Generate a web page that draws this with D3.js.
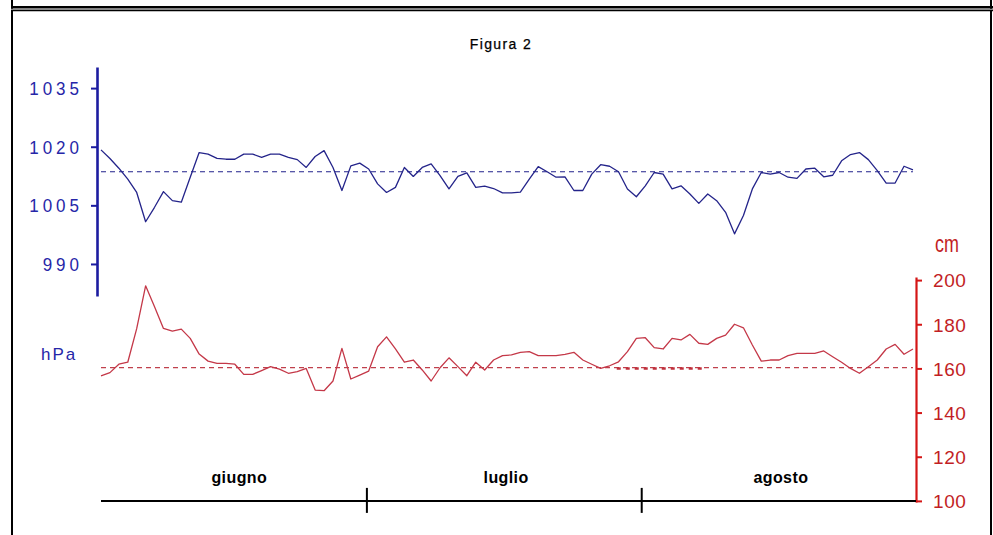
<!DOCTYPE html>
<html>
<head>
<meta charset="utf-8">
<script src="https://cdn.jsdelivr.net/npm/d3@7"></script>
<style>
  html, body { margin: 0; padding: 0; background: #fff; }
  svg { display: block; }
  text { font-family: "Liberation Sans", Arial, sans-serif; }
</style>
</head>
<body>
<svg id="chart" width="993" height="535"></svg>
<script>
// ---- data ----
const title = "Figura 2";
const months = ["giugno", "luglio", "agosto"];
const monthLabelDay = [15.5, 45.4, 76.2];
const monthBoundaryDay = [29.8, 60.6];

// daily sea-level pressure (hPa), 1 June - 31 August
const pressure = [
  1019.2, 1017.0, 1014.5, 1011.7, 1008.3, 1000.8, 1004.5, 1008.5, 1006.2, 1005.8,
  1012.2, 1018.5, 1018.1, 1017.0, 1016.8, 1016.8, 1018.1, 1018.1, 1017.3, 1018.1,
  1018.1, 1017.3, 1016.7, 1014.7, 1017.5, 1019.0, 1014.7, 1008.8, 1015.1, 1015.8,
  1014.3, 1010.5, 1008.3, 1009.6, 1014.7, 1012.4, 1014.7, 1015.6, 1012.6, 1009.2,
  1012.4, 1013.3, 1009.6, 1009.9, 1009.3, 1008.2, 1008.2, 1008.4, 1011.7, 1014.9,
  1013.6, 1012.2, 1012.3, 1008.8, 1008.8, 1013.0, 1015.4, 1015.0, 1013.6, 1009.2,
  1007.2, 1010.0, 1013.4, 1013.0, 1009.2, 1010.0, 1007.9, 1005.5, 1007.9, 1006.2,
  1003.2,  997.7, 1002.4, 1009.2, 1013.4, 1013.0, 1013.4, 1012.2, 1011.9, 1014.3,
  1014.5, 1012.3, 1012.7, 1016.4, 1018.0, 1018.5, 1016.7, 1013.9, 1010.7, 1010.7,
  1015.0, 1014.1
];

// daily sea level (cm)
const seaLevel = [
  156.6, 158.1, 161.9, 162.8, 178.0, 197.4, 187.9, 178.1, 176.9, 177.8,
  173.6, 166.5, 163.3, 162.3, 162.3, 161.9, 157.3, 157.3, 159.0, 160.8,
  159.7, 157.8, 158.5, 160.0, 150.2, 149.9, 154.3, 169.1, 155.2, 157.0,
  158.8, 169.8, 174.3, 168.8, 162.8, 163.8, 159.3, 154.3, 160.3, 164.8,
  160.8, 156.7, 162.8, 159.3, 163.8, 165.8, 166.1, 167.3, 167.6, 165.8,
  165.8, 165.8, 166.4, 167.3, 163.8, 161.9, 160.0, 161.2, 163.0, 167.6,
  173.6, 173.9, 169.4, 168.8, 173.6, 172.9, 175.4, 171.4, 170.9, 173.6,
  175.1, 180.0, 178.4, 170.6, 163.3, 163.8, 163.8, 165.8, 166.8, 166.8,
  166.8, 167.9, 165.3, 162.8, 160.0, 157.8, 160.8, 163.8, 168.8, 170.9,
  166.4, 168.8
];

const pressureMean = 1013.6;
const seaLevelMean = 160.4;
const seaLevelMeanHighlight = [57.8, 67.4];

const pressureTicks = [990, 1005, 1020, 1035];
const seaLevelTicks = [100, 120, 140, 160, 180, 200];
const pressureUnit = "hPa";
const seaLevelUnit = "cm";

// ---- drawing ----
const svg = d3.select("#chart");

// frame
const frame = svg.append("g");
frame.append("line").attr("x1", 12).attr("x2", 12).attr("y1", 0).attr("y2", 535)
  .attr("stroke", "#000").attr("stroke-width", 2);
frame.append("line").attr("x1", 991).attr("x2", 991).attr("y1", 0).attr("y2", 535)
  .attr("stroke", "#000").attr("stroke-width", 2);
frame.append("line").attr("x1", 11).attr("x2", 993).attr("y1", 7.2).attr("y2", 7.2)
  .attr("stroke", "#000").attr("stroke-width", 2.4);
frame.append("line").attr("x1", 11).attr("x2", 993).attr("y1", 9.3).attr("y2", 9.3)
  .attr("stroke", "#8a8a8a").attr("stroke-width", 1.2);
frame.append("line").attr("x1", 11).attr("x2", 993).attr("y1", 10.6).attr("y2", 10.6)
  .attr("stroke", "#000").attr("stroke-width", 1.2);

// scales
const x = d3.scaleLinear().domain([0, 91.34]).range([101, 916]);
const yP = d3.scaleLinear().domain([981.8, 1040.4]).range([296, 67]);
const yH = d3.scaleLinear().domain([99.5, 201.4]).range([502, 277]);

// title
svg.append("text")
  .attr("x", 501).attr("y", 49)
  .attr("text-anchor", "middle")
  .attr("font-size", 14).attr("letter-spacing", 1.4)
  .attr("fill", "#000")
  .attr("stroke", "#000").attr("stroke-width", 0.25)
  .text(title);

// left pressure axis
const gP = svg.append("g").attr("transform", `translate(${x(0) - 4},0)`)
  .call(d3.axisLeft(yP).tickValues(pressureTicks).tickSize(6).tickSizeOuter(0).tickFormat(d3.format("d")));
gP.select(".domain").attr("stroke", "#1c1ca0").attr("stroke-width", 2.6);
gP.selectAll(".tick line").attr("stroke", "#1c1ca0").attr("stroke-width", 2);
gP.selectAll(".tick text")
  .attr("x", -14).attr("dy", "0.36em")
  .attr("transform", "scale(1,1.08)")
  .attr("font-size", 17).attr("letter-spacing", 4.0)
  .attr("font-family", "'Liberation Sans', Arial, sans-serif")
  .attr("fill", "#2626a8");

svg.append("text")
  .attr("x", 41).attr("y", 360)
  .attr("font-size", 17).attr("letter-spacing", 2)
  .attr("fill", "#2626a8")
  .text(pressureUnit);

// right sea-level axis
const gH = svg.append("g").attr("transform", `translate(${x(91.34)},0)`)
  .call(d3.axisRight(yH).tickValues(seaLevelTicks).tickSize(6).tickSizeOuter(0).tickFormat(d3.format("d")));
gH.select(".domain").attr("stroke", "#d41616").attr("stroke-width", 2.2);
gH.selectAll(".tick line").attr("stroke", "#d41616").attr("stroke-width", 2);
gH.selectAll(".tick text")
  .attr("x", 17).attr("dy", "0.36em")
  .attr("font-size", 19).attr("letter-spacing", 0.6)
  .attr("font-family", "'Liberation Sans', Arial, sans-serif")
  .attr("fill", "#c21e24");

svg.append("text")
  .attr("transform", `translate(935,252) scale(1,1.3)`)
  .attr("font-size", 18)
  .attr("fill", "#c21e24")
  .text(seaLevelUnit);

// bottom month axis
const gX = svg.append("g").attr("transform", `translate(0,${yH(100)})`);
gX.append("path")
  .attr("d", `M${x(0)},0H${x(91.34)}`)
  .attr("stroke", "#000").attr("stroke-width", 2).attr("fill", "none");
gX.selectAll("line.mt").data(monthBoundaryDay).join("line")
  .attr("class", "mt")
  .attr("x1", d => x(d)).attr("x2", d => x(d))
  .attr("y1", -13).attr("y2", 12)
  .attr("stroke", "#000").attr("stroke-width", 2);
svg.selectAll("text.month").data(months).join("text")
  .attr("class", "month")
  .attr("x", (d, i) => x(monthLabelDay[i]))
  .attr("y", 483)
  .attr("text-anchor", "middle")
  .attr("font-size", 16).attr("font-weight", "bold").attr("letter-spacing", 0.4)
  .attr("fill", "#000")
  .text(d => d);

// mean lines
svg.append("line")
  .attr("x1", x(0)).attr("x2", x(pressure.length - 1))
  .attr("y1", yP(pressureMean)).attr("y2", yP(pressureMean))
  .attr("stroke", "#22228c").attr("stroke-width", 1.2)
  .attr("stroke-dasharray", "5,4");

svg.append("line")
  .attr("x1", x(0)).attr("x2", x(seaLevel.length - 1))
  .attr("y1", yH(seaLevelMean)).attr("y2", yH(seaLevelMean))
  .attr("stroke", "#c0404c").attr("stroke-width", 1.2)
  .attr("stroke-dasharray", "5,4");
svg.append("line")
  .attr("x1", x(seaLevelMeanHighlight[0])).attr("x2", x(seaLevelMeanHighlight[1]))
  .attr("y1", yH(seaLevelMean) + 1).attr("y2", yH(seaLevelMean) + 1)
  .attr("stroke", "#c0303c").attr("stroke-width", 2.6)
  .attr("stroke-dasharray", "4,5");

// series lines
const lineP = d3.line().x((d, i) => x(i)).y(d => yP(d));
const lineH = d3.line().x((d, i) => x(i)).y(d => yH(d));

svg.append("path").datum(pressure)
  .attr("d", lineP)
  .attr("fill", "none").attr("stroke", "#24248a").attr("stroke-width", 1.3)
  .attr("stroke-linejoin", "round");

svg.append("path").datum(seaLevel)
  .attr("d", lineH)
  .attr("fill", "none").attr("stroke", "#c43848").attr("stroke-width", 1.3)
  .attr("stroke-linejoin", "round");
</script>
</body>
</html>
